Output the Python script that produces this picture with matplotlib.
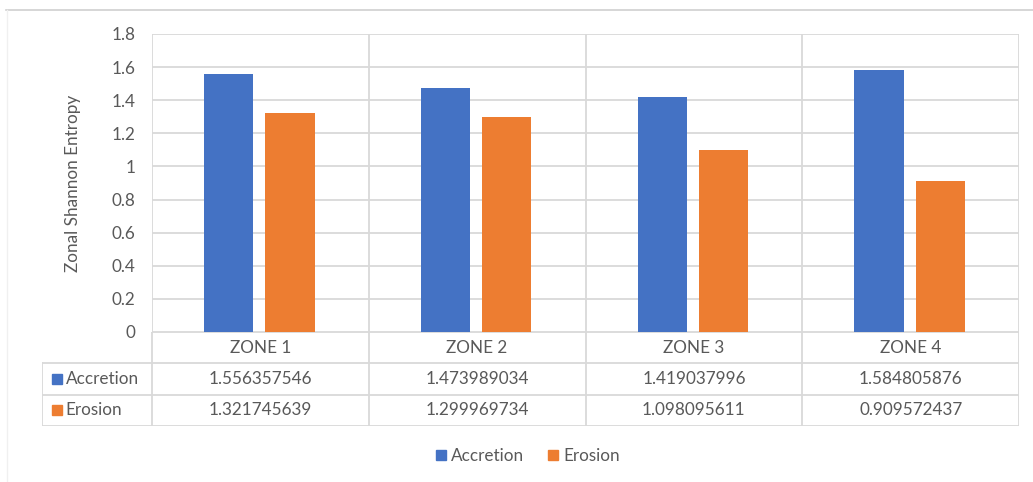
import numpy as np
import matplotlib
matplotlib.use('Agg')
import matplotlib.pyplot as plt
from matplotlib.lines import Line2D
from matplotlib.patches import Rectangle

# Data
zones = ['ZONE 1', 'ZONE 2', 'ZONE 3', 'ZONE 4']
accretion = [1.556357546, 1.473989034, 1.419037996, 1.584805876]
erosion = [1.321745639, 1.299969734, 1.098095611, 0.909572437]
series_names = ['Accretion', 'Erosion']
y_ticks = [0, 0.2, 0.4, 0.6, 0.8, 1, 1.2, 1.4, 1.6, 1.8]
y_tick_labels = ['0', '0.2', '0.4', '0.6', '0.8', '1', '1.2', '1.4', '1.6', '1.8']

blue = '#4472c4'
orange = '#ed7d31'
grid_c = '#d9d9d9'
text_c = '#595959'
plt.rcParams['font.family'] = ['Lato', 'DejaVu Sans']
fs = 12.3

W, H = 1033, 482
fig = plt.figure(figsize=(W / 100, H / 100), dpi=100)

# outer frame lines (top and left)
fig.add_artist(Line2D([6 / W, 1.0], [1 - 9.5 / H, 1 - 9.5 / H], color='#d0d0d0', lw=1.2))
fig.add_artist(Line2D([7 / W, 7 / W], [0, 1 - 9.5 / H], color='#f0f0f0', lw=1))

# main plot
left, right, top, bottom = 152, 1019, 34, 332
ax = fig.add_axes([left / W, 1 - bottom / H, (right - left) / W, (bottom - top) / H])
x = np.arange(len(zones))
bw = 0.227
ax.bar(x + 0.354, accretion, width=bw, color=blue, zorder=3)
ax.bar(x + 0.637, erosion, width=bw, color=orange, zorder=3)
ax.set_xlim(0, len(zones))
ax.set_ylim(0, 1.8)
ax.set_yticks(y_ticks)
ax.set_yticklabels(y_tick_labels, color=text_c, fontsize=fs)
ax.set_xticks([])
ax.tick_params(axis='y', length=0, pad=12)
for yv in y_ticks:
    ax.axhline(yv, color=grid_c, lw=1.3, zorder=1)
for xv in range(len(zones) + 1):
    ax.axvline(xv, color=grid_c, lw=1.3, zorder=1)
for s in ax.spines.values():
    s.set_visible(False)
ax.set_ylabel('Zonal Shannon Entropy', color=text_c, fontsize=fs, labelpad=22)

# data table under the plot
tleft, tbot = 42, 426
tab = fig.add_axes([tleft / W, 1 - tbot / H, (right - tleft) / W, (tbot - bottom) / H])
x0 = -(left - tleft) / ((right - left) / len(zones))
tab.set_xlim(x0, len(zones))
tab.set_ylim(3, 0)
tab.axis('off')
# horizontal lines
tab.plot([0, len(zones)], [0, 0], color=grid_c, lw=1.3)
for r in [1, 2, 3]:
    tab.plot([x0, len(zones)], [r, r], color=grid_c, lw=1.3)
# vertical lines
tab.plot([x0, x0], [1, 3], color=grid_c, lw=1.3)
for c in range(len(zones) + 1):
    tab.plot([c, c], [0, 3], color=grid_c, lw=1.3)
for i, z in enumerate(zones):
    tab.text(i + 0.5, 0.5, z, ha='center', va='center', color=text_c, fontsize=fs)
    tab.text(i + 0.5, 1.5, f'{accretion[i]:.9f}', ha='center', va='center', color=text_c, fontsize=fs)
    tab.text(i + 0.5, 2.5, f'{erosion[i]:.9f}', ha='center', va='center', color=text_c, fontsize=fs)
for r, (name, col) in enumerate(zip(series_names, [blue, orange])):
    tab.add_patch(Rectangle((x0 + 0.045, r + 1.5 - 0.16), 0.045, 0.32, color=col, clip_on=False))
    tab.text(x0 + 0.11, r + 1.5, name, ha='left', va='center', color=text_c, fontsize=fs)

# legend
handles = [Rectangle((0, 0), 1, 1, color=blue), Rectangle((0, 0), 1, 1, color=orange)]
fig.legend(handles, series_names, loc='center', bbox_to_anchor=(528 / W, 1 - 456 / H),
           ncol=2, frameon=False, fontsize=fs, handlelength=0.6, handleheight=0.6,
           handletextpad=0.3, columnspacing=1.4, labelcolor=text_c)

fig.savefig('out.png', dpi=100)
